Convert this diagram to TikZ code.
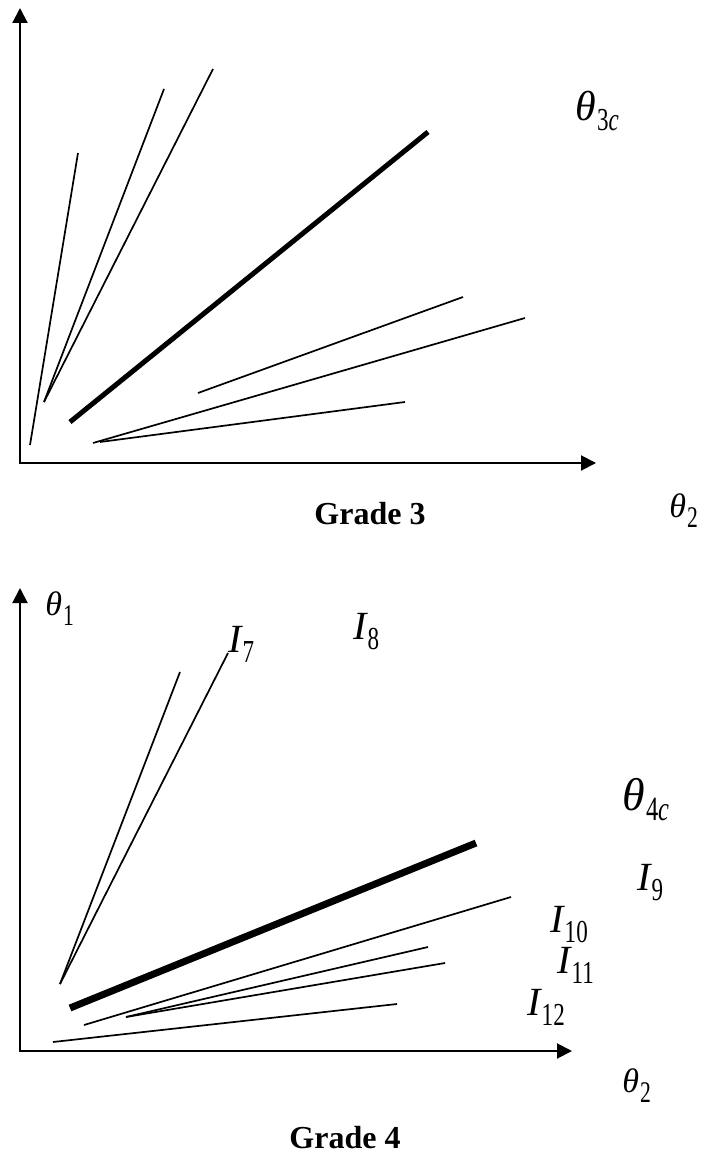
\documentclass[tikz,border=0pt]{standalone}
\usepackage{fontspec}
\setmainfont{Liberation Serif}
\usetikzlibrary{arrows.meta}

% symbol with a lowered, narrow subscript: size, symbol, sub size, subscript
\newcommand{\symb}[4]{{\fontsize{#1}{#1}\selectfont\itshape #2}\kern0.5pt{\fontsize{#3}{#3}\selectfont\raisebox{-5pt}{\scalebox{0.72}[1]{#4}}}}

\begin{document}
\begin{tikzpicture}[
    x=0.5pt, y=-0.5pt,
    axes/.style={line width=1pt, {Triangle[length=7.5pt, width=7.5pt]}-{Triangle[length=7.5pt, width=7.5pt]}},
    ray/.style={line width=0.85pt},
    crit/.style={line width=2.5pt},
    lbl/.style={inner sep=0pt, anchor=base west},
    title/.style={inner sep=0pt, anchor=base, font=\fontsize{16}{16}\selectfont\bfseries}
]
\useasboundingbox (0,0) rectangle (703,1159);

% Grade 3
\coordinate (ytop3) at (20,8);
\coordinate (orig3) at (20,463);
\coordinate (xend3) at (596,463);
\draw[axes] (ytop3) -- (orig3) -- (xend3);

\coordinate (s31) at (30,445);   \coordinate (e31) at (78,153);
\coordinate (s32) at (44,402);   \coordinate (e32) at (164,89);
                                 \coordinate (e33) at (213,69);
\coordinate (s34) at (70,422);   \coordinate (e34) at (428,132);
\coordinate (s35) at (198,393);  \coordinate (e35) at (463,297);
\coordinate (s36) at (93,443);   \coordinate (e36) at (525,318);
\coordinate (s37) at (100,442);  \coordinate (e37) at (405,402);

\draw[ray] (s31) -- (e31);
\draw[ray] (s32) -- (e32);
\draw[ray] (s32) -- (e33);
\draw[crit] (s34) -- (e34);
\draw[ray] (s35) -- (e35);
\draw[ray] (s36) -- (e36);
\draw[ray] (s37) -- (e37);

\node[lbl] (th3c) at (575,121) {\symb{21}{θ}{16}{3{\itshape c}}};
\node[lbl] (th23) at (669,517) {\symb{17}{θ}{15}{2}};
\node[title] (grade3) at (370,524) {Grade 3};

% Grade 4
\coordinate (ytop4) at (20,588);
\coordinate (orig4) at (20,1051);
\coordinate (xend4) at (572,1051);
\draw[axes] (ytop4) -- (orig4) -- (xend4);

\coordinate (s41) at (60,984);   \coordinate (e41) at (180,672);
                                 \coordinate (e42) at (228,653);
\coordinate (s43) at (70,1008);  \coordinate (e43) at (476,843);
\coordinate (s44) at (84,1025);  \coordinate (e44) at (511,897);
\coordinate (s45) at (126,1017); \coordinate (e45) at (428,947);
                                 \coordinate (e46) at (445,963);
\coordinate (s47) at (53,1042);  \coordinate (e47) at (397,1004);

\draw[ray] (s41) -- (e41);
\draw[ray] (s41) -- (e42);
\draw[crit, line width=3.5pt] (s43) -- (e43);
\draw[ray] (s44) -- (e44);
\draw[ray] (s45) -- (e45);
\draw[ray] (s45) -- (e46);
\draw[ray] (s47) -- (e47);

\node[lbl] (th1) at (45,615) {\symb{17}{θ}{15}{1}};
\node[lbl] (i7) at (228,652) {\symb{20}{I}{16}{7}};
\node[lbl] (i8) at (353,639) {\symb{20}{I}{16}{8}};
\node[lbl] (th4c) at (622,810) {\symb{23}{θ}{17}{4{\itshape c}}};
\node[lbl] (i9) at (637,890) {\symb{20}{I}{16}{9}};
\node[lbl] (i10) at (550,932) {\symb{20}{I}{16}{10}};
\node[lbl] (i11) at (557,973) {\symb{20}{I}{16}{11}};
\node[lbl] (i12) at (527,1015) {\symb{20}{I}{16}{12}};
\node[lbl] (th24) at (622,1092) {\symb{17}{θ}{15}{2}};
\node[title] (grade4) at (345,1148) {Grade 4};

\end{tikzpicture}
\end{document}
